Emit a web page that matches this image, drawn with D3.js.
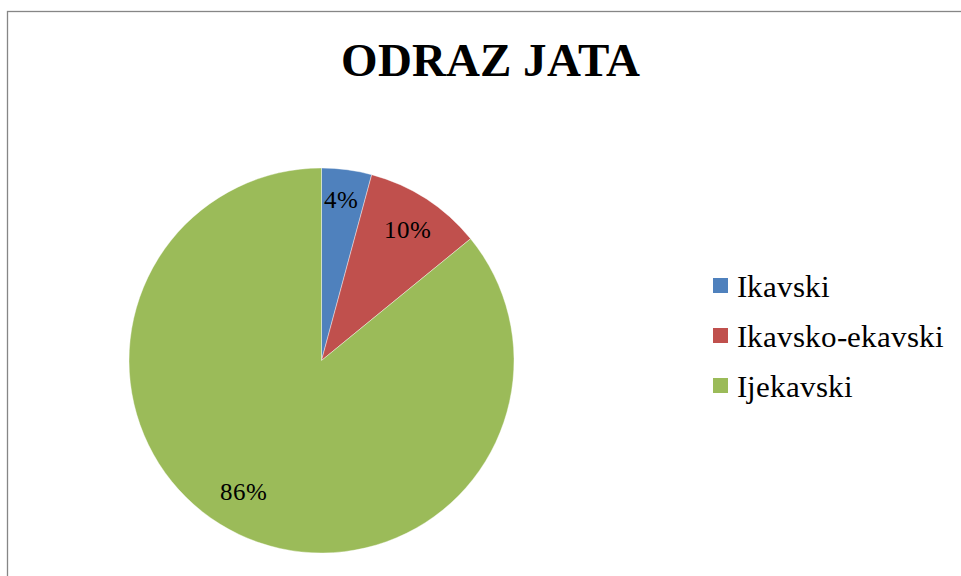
<!DOCTYPE html>
<html><head><meta charset="utf-8">
<script src="https://cdn.jsdelivr.net/npm/d3@7"></script>
<style>
@font-face { font-family: "ChartSerif"; src: local("Liberation Serif"), local("LiberationSerif"), local("Tinos"), local("Times New Roman"); font-weight: normal; }
@font-face { font-family: "ChartSerif"; src: local("Liberation Serif Bold"), local("LiberationSerif-Bold"), local("Tinos Bold"), local("Times New Roman Bold"); font-weight: bold; }
</style>
</head><body>
<script>
const title = "ODRAZ JATA";
const categories = ["Ikavski", "Ikavsko-ekavski", "Ijekavski"];
const values = [4.2, 9.9, 85.9];
const colors = ["#4F81BD", "#C0504D", "#9BBB59"];
const FONT = '"ChartSerif", "Liberation Serif", Tinos, "Times New Roman"';

const W = 961, H = 576;
const svg = d3.select("body").append("svg").attr("width", W).attr("height", H)
  .style("position", "absolute").style("left", "0px").style("top", "0px");
svg.append("rect").attr("x", 7.5).attr("y", 11.5).attr("width", 1000).attr("height", 700)
  .attr("fill", "none").attr("stroke", "#868686").attr("stroke-width", 1.3);

svg.append("text").attr("x", 490.5).attr("y", 76).attr("text-anchor", "middle")
  .attr("font-family", FONT).style("font-family", FONT).attr("font-weight", "bold")
  .attr("font-size", 46.5).text(title);

const cx = 321.5, cy = 360.5, R = 192.5;
const color = d3.scaleOrdinal().domain(categories).range(colors);
const pie = d3.pie().value(d => d.v).sort(null);
const data = categories.map((c, i) => ({c, v: values[i]}));
const arcs = pie(data);
const arc = d3.arc().innerRadius(0).outerRadius(R);
const g = svg.append("g").attr("transform", `translate(${cx},${cy})`);
g.selectAll("path").data(arcs).enter().append("path")
  .attr("d", arc).attr("fill", d => color(d.data.c))
  .attr("stroke", "#fff").attr("stroke-width", 0.4);

const labelArc = d3.arc().innerRadius(R * 0.83).outerRadius(R * 0.83);
const total = d3.sum(values);
const nudges = [[-2, -3], [-1, 3], [-10, -14]];
g.selectAll("text.lbl").data(arcs).enter().append("text").attr("class", "lbl")
  .attr("transform", (d, i) => {
    const [x, y] = labelArc.centroid(d);
    return `translate(${x + nudges[i][0]},${y + nudges[i][1]})`;
  })
  .attr("text-anchor", "middle").attr("dy", "0.35em")
  .attr("font-family", FONT).style("font-family", FONT).attr("font-size", 25)
  .text(d => Math.round(d.data.v / total * 100) + "%");

const lg = svg.append("g").attr("transform", "translate(713,286)");
categories.forEach((c, i) => {
  const row = lg.append("g").attr("transform", `translate(0,${i * 50})`);
  row.append("rect").attr("x", 0).attr("y", -8).attr("width", 15).attr("height", 15).attr("fill", color(c));
  row.append("text").attr("x", 24).attr("y", 10.5)
    .attr("font-family", FONT).style("font-family", FONT).attr("font-size", 31)
    .text(c);
});
</script>
</body></html>
